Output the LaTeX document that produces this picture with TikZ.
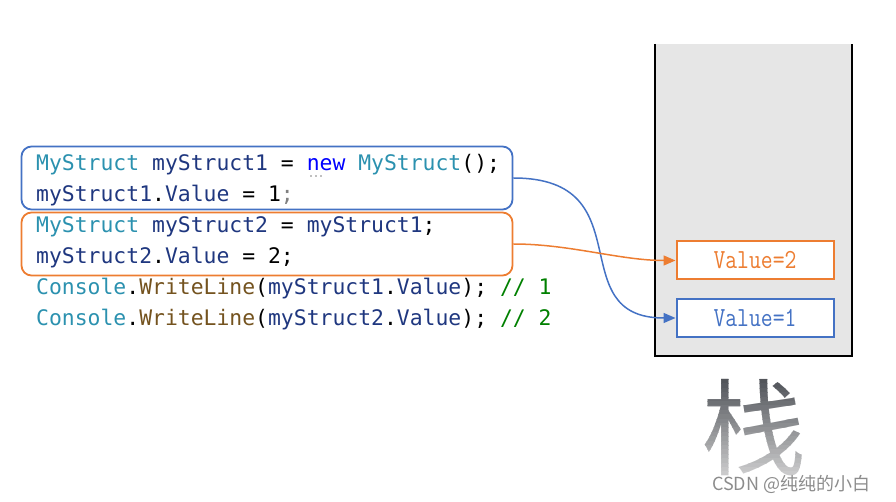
\documentclass[tikz,border=0pt]{standalone}
\usepackage{fontspec}
\setmonofont{DejaVu Sans Mono}
\newfontfamily\cjkfont{Noto Sans CJK SC}
\newfontfamily\valfont{Latin Modern Mono}
\usetikzlibrary{arrows.meta}
\definecolor{cblue}{HTML}{4472C4}
\definecolor{corange}{HTML}{ED7D31}
\definecolor{ctype}{HTML}{2B91AF}
\definecolor{cvar}{HTML}{1F377F}
\definecolor{ckw}{HTML}{0000FF}
\definecolor{cmeth}{HTML}{74531F}
\definecolor{ccom}{HTML}{008000}
\definecolor{cstack}{HTML}{E6E6E6}
\definecolor{chdark}{HTML}{4C4F55}
\definecolor{chlight}{HTML}{D8D8D8}
\tikzset{
  codebox/.style={draw, line width=1.8pt, rounded corners=10pt, minimum width=491pt, minimum height=63pt, inner sep=0pt},
  valbox/.style={draw, fill=white, line width=2pt, minimum width=157pt, minimum height=38pt, inner sep=0pt, font=\valfont\fontsize{23}{23}\selectfont},
  codeline/.style={anchor=base west, inner sep=0pt, font=\ttfamily\fontsize{21.4}{21.4}\selectfont, text=cvar},
  link/.style={line width=1.5pt, -{Triangle[length=12pt,width=10pt]}}
}
\begin{document}
\begin{tikzpicture}[x=1pt,y=-1pt]
\useasboundingbox (0,0) rectangle (896,502);
% stack
\fill[cstack] (655,44) rectangle (852,356);
\draw[line width=2.5pt] (655,44) -- (655,356) -- (852,356) -- (852,44);
% value boxes
\node[valbox, draw=corange, text=corange] (v2) at (755,260.5) {\scalebox{1}[1.2]{Value=2}};
\node[valbox, draw=cblue, text=cblue] (v1) at (755,318) {\scalebox{1}[1.2]{Value=1}};
% code boxes
\node[codebox, draw=cblue] (b1) at (267,178) {};
\node[codebox, draw=corange] (b2) at (267,244) {};
% code lines
\node[codeline] (l1) at (36,171) {\textcolor{ctype}{MyStruct} myStruct1 \textcolor{black}{=} \textcolor{ckw}{new} \textcolor{ctype}{MyStruct}\textcolor{black}{();}};
\node[codeline] (l2) at (36,202) {myStruct1\textcolor{black}{.}Value \textcolor{black}{= 1}\textcolor{gray}{;}};
\node[codeline] (l3) at (36,233) {\textcolor{ctype}{MyStruct} myStruct2 \textcolor{black}{=} myStruct1\textcolor{black}{;}};
\node[codeline] (l4) at (36,263.5) {myStruct2\textcolor{black}{.}Value \textcolor{black}{= 2;}};
\node[codeline] (l5) at (36,294.5) {\textcolor{ctype}{Console}\textcolor{black}{.}\textcolor{cmeth}{WriteLine}\textcolor{black}{(}myStruct1\textcolor{black}{.}Value\textcolor{black}{);} \textcolor{ccom}{// 1}};
\node[codeline] (l6) at (36,325) {\textcolor{ctype}{Console}\textcolor{black}{.}\textcolor{cmeth}{WriteLine}\textcolor{black}{(}myStruct2\textcolor{black}{.}Value\textcolor{black}{);} \textcolor{ccom}{// 2}};
% suggestion dots under "new"
\foreach \dx in {311,316,321}{\fill[gray] (\dx,176) circle (0.9);}
% links
\draw[link, cblue] (b1.east) .. controls (645,178) and (560,318) .. (v1.west);
\draw[link, corange] (b2.east) .. controls (570,244) and (620,260.5) .. (v2.west);
% big character with vertical gradient (dark top, light bottom)
\foreach \i in {0,...,24}{
  \pgfmathsetmacro{\ya}{375+\i*4.4}
  \pgfmathsetmacro{\yb}{\ya+4.5}
  \pgfmathsetmacro{\mix}{100-\i*4.1}
  \begin{scope}
    \clip (690,\ya) rectangle (820,\yb);
    \node[inner sep=0pt, font=\cjkfont\fontsize{105}{105}\selectfont, text=chdark!\mix!chlight] at (754,428) {栈};
  \end{scope}
}
\node[inner sep=0pt, anchor=base west, font=\cjkfont\fontsize{18}{18}\selectfont, text=black!45] (wm) at (712,490) {CSDN @纯纯的小白};
\end{tikzpicture}
\end{document}
